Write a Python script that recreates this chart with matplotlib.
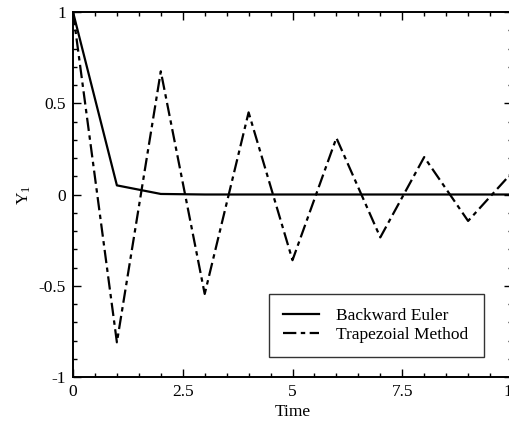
import matplotlib
matplotlib.use("Agg")
import matplotlib.pyplot as plt
from matplotlib.ticker import MultipleLocator

time = [0, 1, 2, 3, 4, 5, 6, 7, 8, 9, 10]
backward_euler = [1.0, 0.05, 0.003, 0.0, 0.0, 0.0, 0.0, 0.0, 0.0, 0.0, 0.0]
trapezoidal = [1.0, -0.81, 0.675, -0.545, 0.45, -0.36, 0.31, -0.235, 0.205, -0.145, 0.12]
xticks = [0, 2.5, 5, 7.5, 10]
xticklabels = ["0", "2.5", "5", "7.5", "10"]
yticks = [-1, -0.5, 0, 0.5, 1]
yticklabels = ["-1", "-0.5", "0", "0.5", "1"]

plt.rcParams['font.family'] = ['Liberation Serif', 'DejaVu Serif']
plt.rcParams['mathtext.fontset'] = 'stix'

fig = plt.figure(figsize=(5.09, 4.25), dpi=100)
ax = fig.add_axes([73/509, 1-377/425, (512-73)/509, (377-12)/425])

ax.plot(time, backward_euler, color='black', lw=1.6, label='Backward Euler')
ax.plot(time, trapezoidal, color='black', lw=1.6, linestyle=(0, (6, 2, 2, 2)), label='Trapezoial Method')

ax.set_xlim(0, 10)
ax.set_ylim(-1, 1)
ax.set_xticks(xticks)
ax.set_xticklabels(xticklabels)
ax.set_yticks(yticks)
ax.set_yticklabels(yticklabels)
ax.xaxis.set_minor_locator(MultipleLocator(0.5))
ax.yaxis.set_minor_locator(MultipleLocator(0.1))
ax.tick_params(which='both', direction='in', top=True, right=True, width=1.0, labelsize=12.5)
ax.tick_params(which='major', length=6)
ax.tick_params(axis='x', which='major', pad=5)
ax.tick_params(axis='y', which='major', pad=5)
ax.tick_params(which='minor', length=3)
for s in ax.spines.values():
    s.set_linewidth(1.4)

ax.set_xlabel('Time', fontsize=12.5, labelpad=3)
ax.set_ylabel('Y$_{\\mathregular{1}}$', fontsize=12.5, labelpad=4)

leg = ax.legend(loc='center', bbox_to_anchor=(0.426, 0.0575, 0.531, 0.167), mode='expand',
                frameon=True, fancybox=False, edgecolor='black', fontsize=12.5,
                handlelength=2.1, borderpad=0.8, labelspacing=0.2, handletextpad=1.0)
leg.get_frame().set_linewidth(1.0)

fig.savefig('out.png', dpi=100)
